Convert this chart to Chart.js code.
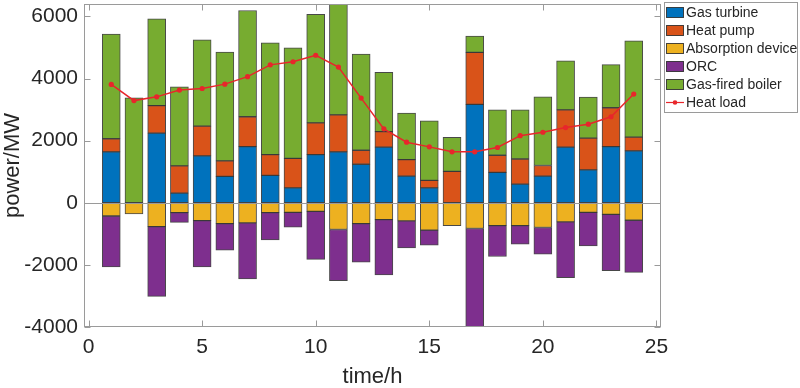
<!DOCTYPE html>
<html>
<head>
<meta charset="utf-8">
<script src="https://cdn.jsdelivr.net/npm/chart.js@4.4.1/dist/chart.umd.min.js"></script>
<style>
  html, body { margin: 0; padding: 0; background: #fff; }
  #wrap { width: 800px; height: 388px; }
</style>
</head>
<body>
<div id="wrap"><canvas id="powerChart"></canvas></div>
<script>
const hours = [1, 2, 3, 4, 5, 6, 7, 8, 9, 10, 11, 12, 13, 14, 15, 16, 17, 18, 19, 20, 21, 22, 23, 24];

const gasTurbine = [1640, 0, 2240, 310, 1510, 850, 1810, 880, 480, 1550, 1640, 1240,
  1790, 860, 480, 0, 3170, 980, 600, 860, 1790, 1060, 1810, 1670];
const heatPump = [420, 0, 890, 880, 960, 500, 960, 670, 950, 1020, 1190, 450,
  500, 530, 240, 1010, 1670, 550, 810, 340, 1200, 1020, 1250, 445];
const absorption = [-425, -362, -766, -319, -574, -670, -648, -319, -308, -276, -861, -670,
  -542, -585, -883, -734, -829, -734, -734, -797, -617, -308, -372, -563];
const orc = [-1640, 0, -2250, -310, -1490, -860, -1800, -875, -480, -1545, -1645, -1245,
  -1780, -870, -480, 0, -3170, -995, -598, -855, -1795, -1080, -1815, -1678];
const gasBoiler = [3370, 3380, 2790, 2540, 2780, 3500, 3420, 3600, 3560, 3500, 3620, 3100,
  1910, 1500, 1920, 1100, 530, 1460, 1580, 2210, 1580, 1320, 1390, 3100];
const heatLoad = [3810, 3290, 3410, 3630, 3680, 3820, 4060, 4440, 4540, 4750, 4370, 3370,
  2380, 1950, 1800, 1640, 1640, 1780, 2160, 2270, 2420, 2530, 2770, 3500];

const xTicks = [0, 5, 10, 15, 20, 25];
const yTicks = [-4000, -2000, 0, 2000, 4000, 6000];

const fontFamily = "'Liberation Sans', Arial, Helvetica, sans-serif";
const textColor = "#262626";
const axisColor = "#9a9a9a";
const edgeColor = "rgba(40,40,40,0.85)";

function barSet(label, values, color) {
  return {
    type: "bar",
    label: label,
    data: hours.map((h, i) => ({ x: h, y: values[i] === 0 ? null : values[i] })),
    backgroundColor: color,
    borderColor: edgeColor,
    borderWidth: 1,
    borderSkipped: false,
    barThickness: 18,
    clip: 0,
    order: 1
  };
}

// box, inner tick marks, zero line and the legend, drawn the matlab way
const framePlugin = {
  id: "frame",
  afterDatasetsDraw(chart) {
    const { ctx, chartArea: a, scales } = chart;
    ctx.save();
    ctx.strokeStyle = axisColor;
    ctx.lineWidth = 1;

    const y0 = Math.round(scales.y.getPixelForValue(0)) + 0.5;
    ctx.beginPath();
    ctx.moveTo(a.left, y0);
    ctx.lineTo(a.right, y0);
    ctx.stroke();

    const l = Math.round(a.left) + 0.5;
    const r = Math.round(a.right) - 0.5;
    const t = Math.round(a.top) + 0.5;
    const b = Math.round(a.bottom) - 0.5;
    ctx.strokeRect(l, t, r - l, b - t);

    ctx.beginPath();
    yTicks.forEach(v => {
      const py = Math.round(scales.y.getPixelForValue(v)) + 0.5;
      ctx.moveTo(l, py); ctx.lineTo(l + 6, py);
      ctx.moveTo(r, py); ctx.lineTo(r - 6, py);
    });
    xTicks.forEach(v => {
      const px = Math.round(scales.x.getPixelForValue(v)) + 0.5;
      ctx.moveTo(px, b); ctx.lineTo(px, b - 6);
      ctx.moveTo(px, t); ctx.lineTo(px, t + 6);
    });
    ctx.stroke();
    ctx.restore();
  },
  afterDraw(chart) {
    const ctx = chart.ctx;
    const sets = chart.data.datasets;
    ctx.save();
    ctx.fillStyle = "#fff";
    ctx.fillRect(664.5, 2.5, 133, 110);
    ctx.strokeStyle = axisColor;
    ctx.lineWidth = 1;
    ctx.strokeRect(664.5, 2.5, 133, 110);

    ctx.font = "14px " + fontFamily;
    ctx.textBaseline = "middle";
    ctx.textAlign = "left";
    sets.forEach((ds, i) => {
      const cy = 12.5 + i * 18;
      if (ds.type === "line") {
        ctx.strokeStyle = ds.borderColor;
        ctx.lineWidth = 1.2;
        ctx.beginPath();
        ctx.moveTo(666, cy);
        ctx.lineTo(684, cy);
        ctx.stroke();
        ctx.fillStyle = ds.borderColor;
        ctx.beginPath();
        ctx.arc(675, cy, 2.3, 0, Math.PI * 2);
        ctx.fill();
      } else {
        ctx.fillStyle = ds.backgroundColor;
        ctx.fillRect(666.5, cy - 5, 17, 10);
        ctx.strokeStyle = edgeColor;
        ctx.lineWidth = 1;
        ctx.strokeRect(666.5, cy - 5, 17, 10);
      }
      ctx.fillStyle = textColor;
      ctx.fillText(ds.label, 686, cy + 0.5);
    });
    ctx.restore();
  }
};

const ctx = document.getElementById("powerChart").getContext("2d");

new Chart(ctx, {
  type: "bar",
  data: {
    datasets: [
      barSet("Gas turbine", gasTurbine, "#0072BD"),
      barSet("Heat pump", heatPump, "#D95319"),
      barSet("Absorption device", absorption, "#EDB120"),
      barSet("ORC", orc, "#7E2F8E"),
      barSet("Gas-fired boiler", gasBoiler, "#77AC30"),
      {
        type: "line",
        label: "Heat load",
        data: hours.map((h, i) => ({ x: h, y: heatLoad[i] })),
        stack: "load",
        borderColor: "#E8262B",
        backgroundColor: "#E8262B",
        borderWidth: 1.5,
        pointRadius: 2.6,
        pointBorderWidth: 0,
        tension: 0,
        order: 0
      }
    ]
  },
  options: {
    responsive: true,
    maintainAspectRatio: false,
    animation: false,
    layout: {
      padding: { top: 2, right: 139, left: 0, bottom: 0 }
    },
    plugins: {
      legend: { display: false },
      tooltip: { enabled: false }
    },
    scales: {
      x: {
        type: "linear",
        min: -0.2,
        max: 25.2,
        offset: false,
        stacked: true,
        grid: { display: false, drawTicks: false },
        border: { display: false },
        ticks: {
          color: textColor,
          font: { family: fontFamily, size: 21 },
          padding: 8,
          callback: v => String(v)
        },
        afterBuildTicks: s => { s.ticks = xTicks.map(v => ({ value: v })); },
        afterFit: s => { s.height = 61; s.paddingLeft = 0; s.paddingRight = 0; },
        title: {
          display: true,
          text: "time/h",
          color: textColor,
          font: { family: fontFamily, size: 22, lineHeight: 1 },
          padding: 0
        }
      },
      y: {
        min: -4000,
        max: 6400,
        stacked: true,
        grid: { display: false, drawTicks: false },
        border: { display: false },
        ticks: {
          color: textColor,
          font: { family: fontFamily, size: 21 },
          padding: 6,
          callback: v => String(v)
        },
        afterBuildTicks: s => { s.ticks = yTicks.map(v => ({ value: v })); },
        afterFit: s => { s.width = 84; s.paddingTop = 0; s.paddingBottom = 0; },
        title: {
          display: true,
          text: "power/MW",
          color: textColor,
          font: { family: fontFamily, size: 22, lineHeight: 1 },
          padding: { top: 2, bottom: 0 }
        }
      }
    }
  },
  plugins: [framePlugin]
});
</script>
</body>
</html>
